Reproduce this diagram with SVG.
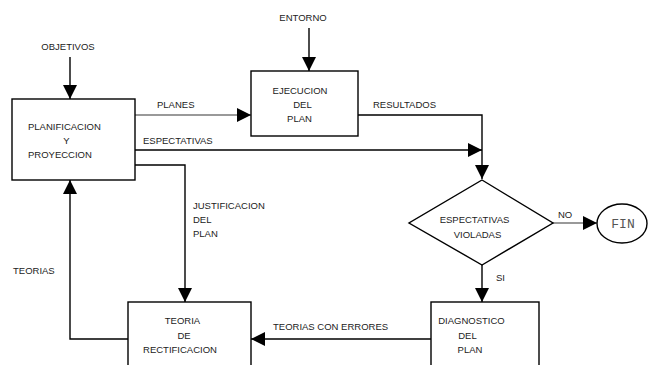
<svg xmlns="http://www.w3.org/2000/svg" width="654" height="365" viewBox="0 0 654 365">
  <style>
    .box { fill: #fff; stroke: #000; stroke-width: 1.4; }
    .wire { fill: none; stroke: #000; stroke-width: 1.4; }
    .wire-light { fill: none; stroke: #777; stroke-width: 1.4; }
    text { font-family: "Liberation Sans", Arial, sans-serif; font-size: 9.5px; fill: #222; }
    .mid { text-anchor: middle; }
    .mono { font-family: "Liberation Mono", "Courier New", monospace; font-size: 13px; fill: #555; }
  </style>
  <defs>
    <marker id="arrow" viewBox="0 0 14 14" refX="14" refY="7" markerWidth="14" markerHeight="14" markerUnits="userSpaceOnUse" orient="auto">
      <path d="M0,0 L14,7 L0,14 Z" fill="#000"/>
    </marker>
  </defs>

  <rect width="654" height="365" fill="#fff"/>

  <!-- connectors -->
  <g id="connectors">
    <line class="wire" x1="70" y1="57" x2="70" y2="99" marker-end="url(#arrow)"/>
    <line class="wire" x1="309" y1="28" x2="309" y2="71" marker-end="url(#arrow)"/>
    <line class="wire-light" x1="135" y1="115" x2="251" y2="115" marker-end="url(#arrow)"/>
    <line class="wire" x1="135" y1="150" x2="482" y2="150" marker-end="url(#arrow)"/>
    <polyline class="wire" points="358,115 482,115 482,179" marker-end="url(#arrow)"/>
    <line class="wire-light" x1="553" y1="223" x2="597" y2="223" marker-end="url(#arrow)"/>
    <line class="wire" x1="482" y1="265" x2="482" y2="302" marker-end="url(#arrow)"/>
    <line class="wire" x1="431" y1="339" x2="251" y2="339" marker-end="url(#arrow)"/>
    <polyline class="wire" points="128,339 70,339 70,180" marker-end="url(#arrow)"/>
    <polyline class="wire" points="135,165 185,165 185,302" marker-end="url(#arrow)"/>

    <text x="68" y="50" class="mid">OBJETIVOS</text>
    <text x="303" y="20.5" class="mid">ENTORNO</text>
    <text x="157" y="107.5">PLANES</text>
    <text x="143" y="143.5">ESPECTATIVAS</text>
    <text x="373" y="107.5">RESULTADOS</text>
    <text x="558" y="217.7">NO</text>
    <text x="496" y="281">SI</text>
    <text x="273" y="330">TEORIAS CON ERRORES</text>
    <text x="13" y="273.5">TEORIAS</text>
    <text x="193" y="208.5">JUSTIFICACION</text>
    <text x="193" y="222.7">DEL</text>
    <text x="193" y="236.7">PLAN</text>
  </g>

  <g id="planificacion">
    <rect class="box" x="12" y="99" width="123" height="81"/>
    <text x="28" y="129.5">PLANIFICACION</text>
    <text x="66.5" y="144" class="mid">Y</text>
    <text x="28" y="157.7">PROYECCION</text>
  </g>

  <g id="ejecucion">
    <rect class="box" x="251" y="71" width="107" height="65"/>
    <text x="300" y="93.5" class="mid">EJECUCION</text>
    <text x="302.5" y="107.7" class="mid">DEL</text>
    <text x="299.5" y="121.7" class="mid">PLAN</text>
  </g>

  <g id="decision">
    <polygon class="box" points="482,180 553,223 482,265 409,223"/>
    <text x="474.5" y="222.7" class="mid">ESPECTATIVAS</text>
    <text x="477.5" y="237.5" class="mid">VIOLADAS</text>
  </g>

  <g id="fin">
    <ellipse class="box" cx="622" cy="223.5" rx="25" ry="19.5"/>
    <text x="623" y="228.3" class="mid mono">FIN</text>
  </g>

  <g id="diagnostico">
    <rect class="box" x="431" y="302" width="108" height="80"/>
    <text x="471.5" y="323.5" class="mid">DIAGNOSTICO</text>
    <text x="467.5" y="338.5" class="mid">DEL</text>
    <text x="470" y="352.7" class="mid">PLAN</text>
  </g>

  <g id="rectificacion">
    <rect class="box" x="128" y="302" width="123" height="80"/>
    <text x="182.5" y="323.5" class="mid">TEORIA</text>
    <text x="184" y="338.5" class="mid">DE</text>
    <text x="180" y="352.5" class="mid">RECTIFICACION</text>
  </g>
</svg>
